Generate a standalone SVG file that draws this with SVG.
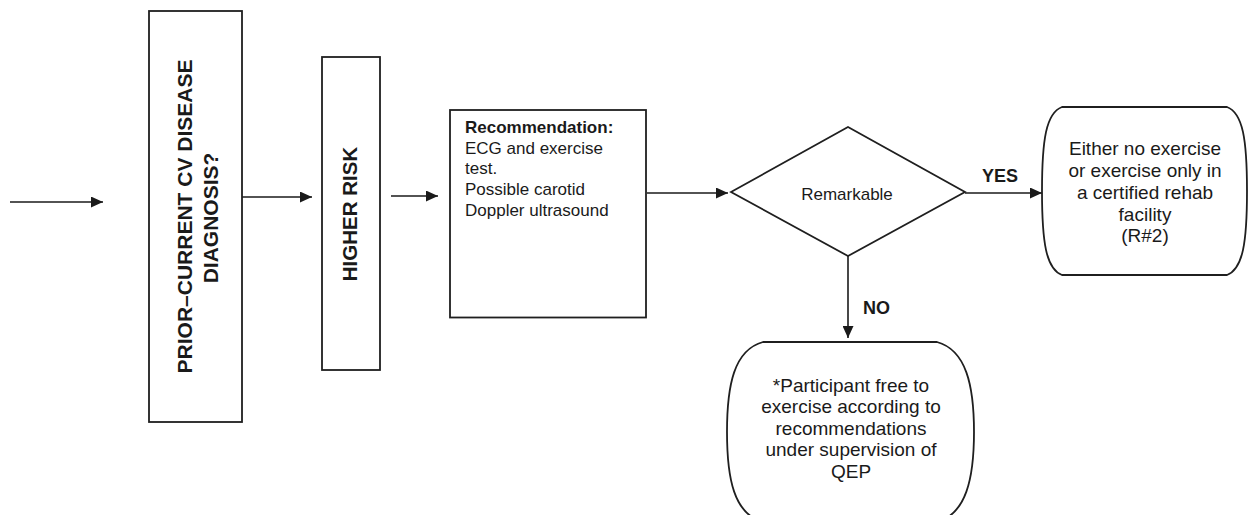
<svg xmlns="http://www.w3.org/2000/svg" width="1249" height="515" viewBox="0 0 1249 515">
  <defs>
    <marker id="arrow" viewBox="0 0 12 11" refX="12" refY="5.5" markerWidth="12" markerHeight="11" markerUnits="userSpaceOnUse" orient="auto">
      <path d="M0,0 L12,5.5 L0,11 Z" fill="#1a1a1a"/>
    </marker>
    <style>
      .shape { fill: #ffffff; stroke: #1f1f1f; stroke-width: 1.8; }
      .edge { fill: none; stroke: #1a1a1a; stroke-width: 1.6; marker-end: url(#arrow); }
      .t { font-family: "Liberation Sans", Arial, sans-serif; fill: #1a1a1a; }
      .b { font-weight: bold; }
      .mid { text-anchor: middle; }
    </style>
  </defs>
  <rect width="1249" height="515" fill="#ffffff"/>

  <!-- connectors -->
  <g id="connectors">
    <line class="edge" x1="10" y1="202" x2="103" y2="202"/>
    <line class="edge" x1="242" y1="197" x2="312" y2="197"/>
    <line class="edge" x1="391" y1="196" x2="438" y2="196"/>
    <line class="edge" x1="647" y1="193" x2="728" y2="193"/>
    <line class="edge" x1="965" y1="193" x2="1042" y2="193"/>
    <line class="edge" x1="848" y1="256" x2="848" y2="338"/>
    <text class="t b mid" x="1000" y="182" font-size="18">YES</text>
    <text class="t b" x="863" y="314" font-size="18">NO</text>
  </g>

  <!-- prior/current diagnosis -->
  <g id="node-diagnosis">
    <rect class="shape" x="149" y="11" width="93" height="411"/>
    <text class="t b mid" font-size="21" transform="translate(192,216.5) rotate(-90)">PRIOR–CURRENT CV DISEASE</text>
    <text class="t b mid" font-size="21" transform="translate(218,218) rotate(-90)">DIAGNOSIS?</text>
  </g>

  <!-- higher risk -->
  <g id="node-risk">
    <rect class="shape" x="322" y="57" width="58" height="313"/>
    <text class="t b mid" font-size="20.5" transform="translate(357,214) rotate(-90)">HIGHER RISK</text>
  </g>

  <!-- recommendation -->
  <g id="node-recommendation">
    <rect class="shape" x="450" y="110" width="196" height="207.5"/>
    <text class="t b" x="465" y="133" font-size="17">Recommendation:</text>
    <text class="t" x="465" y="153.7" font-size="17">ECG and exercise</text>
    <text class="t" x="465" y="174.3" font-size="17">test.</text>
    <text class="t" x="465" y="195" font-size="17">Possible carotid</text>
    <text class="t" x="465" y="215.7" font-size="17">Doppler ultrasound</text>
  </g>

  <!-- decision -->
  <g id="node-remarkable">
    <polygon class="shape" points="731,192 848,127 965,192 848,256"/>
    <text class="t mid" x="847" y="200" font-size="17">Remarkable</text>
  </g>

  <!-- outcome: yes -->
  <g id="node-rehab">
    <path class="shape" d="M1062,107 L1227,107 C1243,113 1247,140 1247,191 C1247,242 1243,269 1227,275 L1062,275 C1046,269 1042,242 1042,191 C1042,140 1046,113 1062,107 Z"/>
    <g class="t mid" font-size="19">
      <text x="1145" y="155">Either no exercise</text>
      <text x="1145" y="177">or exercise only in</text>
      <text x="1145" y="199">a certified rehab</text>
      <text x="1145" y="220.5">facility</text>
      <text x="1145" y="242">(R#2)</text>
    </g>
  </g>

  <!-- outcome: no -->
  <g id="node-free">
    <path class="shape" d="M763,342 L937,342 C966,350 974,385 974,432 C974,479 966,514 937,522 L763,522 C734,514 727,479 727,432 C727,385 734,350 763,342 Z"/>
    <g class="t mid" font-size="19">
      <text x="851" y="391.5">*Participant free to</text>
      <text x="851" y="413">exercise according to</text>
      <text x="851" y="434.5">recommendations</text>
      <text x="851" y="456">under supervision of</text>
      <text x="851" y="477.5">QEP</text>
    </g>
  </g>
</svg>
